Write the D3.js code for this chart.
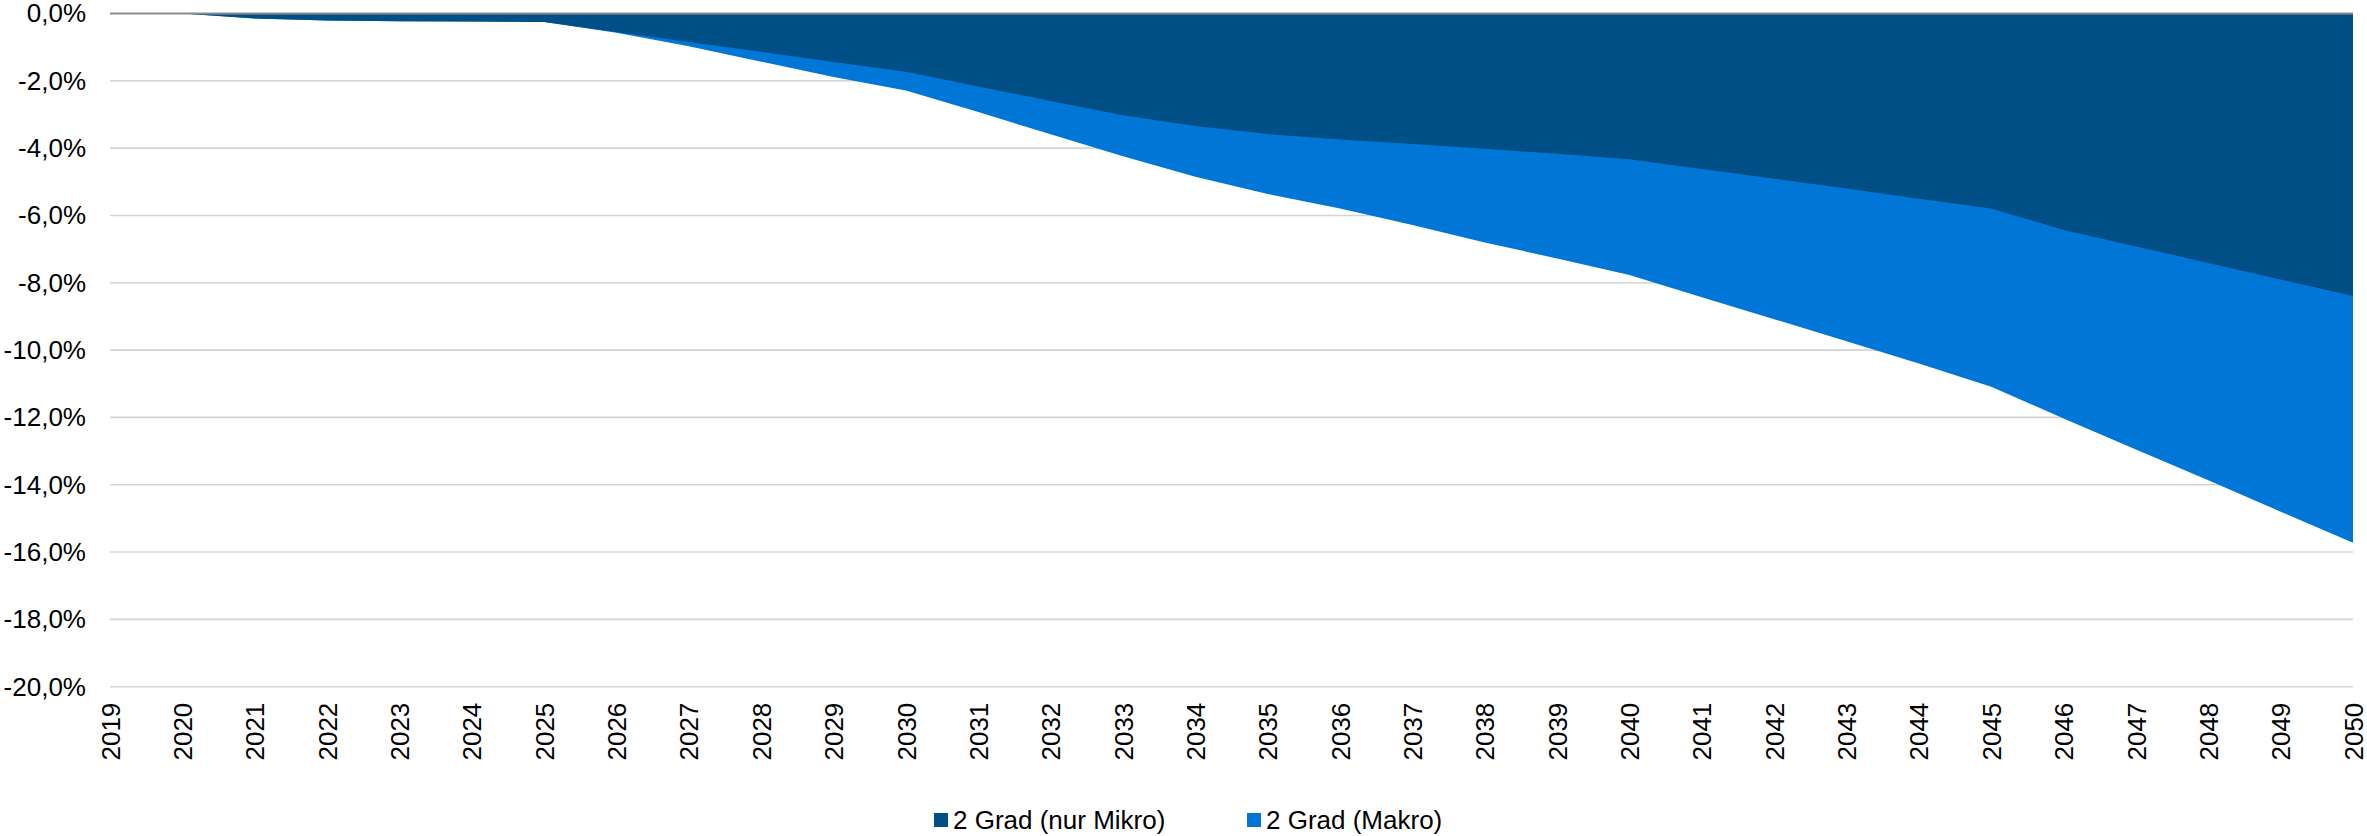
<!DOCTYPE html>
<html>
<head>
<meta charset="utf-8">
<script src="https://cdn.jsdelivr.net/npm/d3@7"></script>
<style>
	body { margin: 0; background: #fff; }
</style>
</head>
<body>
<script>
//the data (percent change)
let years = d3.range(2019, 2051);

let mikro = [0, 0, -0.15, -0.21, -0.23, -0.24, -0.25, -0.55, -0.85, -1.14, -1.44, -1.73,
	-2.17, -2.60, -3.02, -3.34, -3.58, -3.74, -3.88, -4.02, -4.17, -4.33,
	-4.62, -4.91, -5.20, -5.50, -5.79, -6.43, -6.92, -7.41, -7.90, -8.39];

let makro = [0, 0, -0.15, -0.21, -0.23, -0.24, -0.25, -0.57, -0.97, -1.43, -1.89, -2.29,
	-2.93, -3.59, -4.24, -4.85, -5.36, -5.79, -6.28, -6.80, -7.28, -7.77,
	-8.43, -9.08, -9.74, -10.40, -11.09, -12.03, -12.95, -13.87, -14.80, -15.72];

let seriesNames = ["2 Grad (nur Mikro)", "2 Grad (Makro)"];
let seriesColors = ["#004f86", "#0077d6"];
let yTicks = d3.range(-20, 0.1, 2);

//selects the body and appends the svg
let svg = d3.select("body").append("svg")
	.attr("width", 2367)
	.attr("height", 836);

let width = +svg.attr("width");
let height = +svg.attr("height");

let margin = { top: 13.5, right: 14, bottom: 149.3, left: 110 };
let innerWidth = width - margin.left - margin.right;
let innerHeight = height - margin.top - margin.bottom;

let font = "'Liberation Sans', Arial, sans-serif";

let x = d3.scaleLinear()
	.domain([2019, 2050])
	.range([0, innerWidth]);

let y = d3.scaleLinear()
	.domain([-20, 0])
	.range([innerHeight, 0]);

let g = svg.append("g")
	.attr("transform", `translate(${margin.left}, ${margin.top})`);

//horizontal grid lines
g.append("g")
	.selectAll("line")
	.data(yTicks.filter(d => d !== 0))
	.enter().append("line")
	.attr("x1", 0)
	.attr("x2", innerWidth)
	.attr("y1", d => y(d))
	.attr("y2", d => y(d))
	.attr("stroke", "#d4d4d4")
	.attr("stroke-width", 1.6);

//y axis labels
let yAxis = d3.axisLeft(y)
	.tickValues(yTicks)
	.tickSize(0)
	.tickPadding(24)
	.tickFormat(d => d3.format(".1f")(d).replace(".", ",").replace("−", "-") + "%");

g.append("g")
	.call(yAxis)
	.call(ax => ax.select(".domain").remove())
	.selectAll("text")
	.attr("font-family", font)
	.attr("font-size", 26)
	.attr("fill", "#000");

//areas, makro behind and mikro on top
let rows = years.map((yr, i) => ({ year: yr, mikro: mikro[i], makro: makro[i] }));

let area = key => d3.area()
	.x(d => x(d.year))
	.y0(y(0))
	.y1(d => y(d[key]));

g.append("path")
	.datum(rows)
	.attr("d", area("makro"))
	.attr("fill", seriesColors[1]);

g.append("path")
	.datum(rows)
	.attr("d", area("mikro"))
	.attr("fill", seriesColors[0]);

//zero line
g.append("line")
	.attr("x1", 0)
	.attr("x2", innerWidth)
	.attr("y1", y(0))
	.attr("y2", y(0))
	.attr("stroke", "#8c8c8c")
	.attr("stroke-width", 2);

//x axis labels, rotated
let xAxis = d3.axisBottom(x)
	.tickValues(years)
	.tickSize(0)
	.tickFormat(d3.format("d"));

g.append("g")
	.attr("transform", `translate(0, ${innerHeight})`)
	.call(xAxis)
	.call(ax => ax.select(".domain").remove())
	.selectAll("text")
	.attr("font-family", font)
	.attr("font-size", 26)
	.attr("fill", "#000")
	.attr("text-anchor", "end")
	.attr("transform", "rotate(-90)")
	.attr("x", -16)
	.attr("y", 0)
	.attr("dy", "0.35em");

//legend
let legendX = [934, 1247];

let legend = svg.append("g");

legend.selectAll("rect")
	.data(seriesNames)
	.enter().append("rect")
	.attr("x", (d, i) => legendX[i])
	.attr("y", 813)
	.attr("width", 14)
	.attr("height", 14)
	.attr("fill", (d, i) => seriesColors[i]);

legend.selectAll("text")
	.data(seriesNames)
	.enter().append("text")
	.attr("x", (d, i) => legendX[i] + 19)
	.attr("y", 829)
	.attr("font-family", font)
	.attr("font-size", 26)
	.attr("fill", "#000")
	.text(d => d);
</script>
</body>
</html>
